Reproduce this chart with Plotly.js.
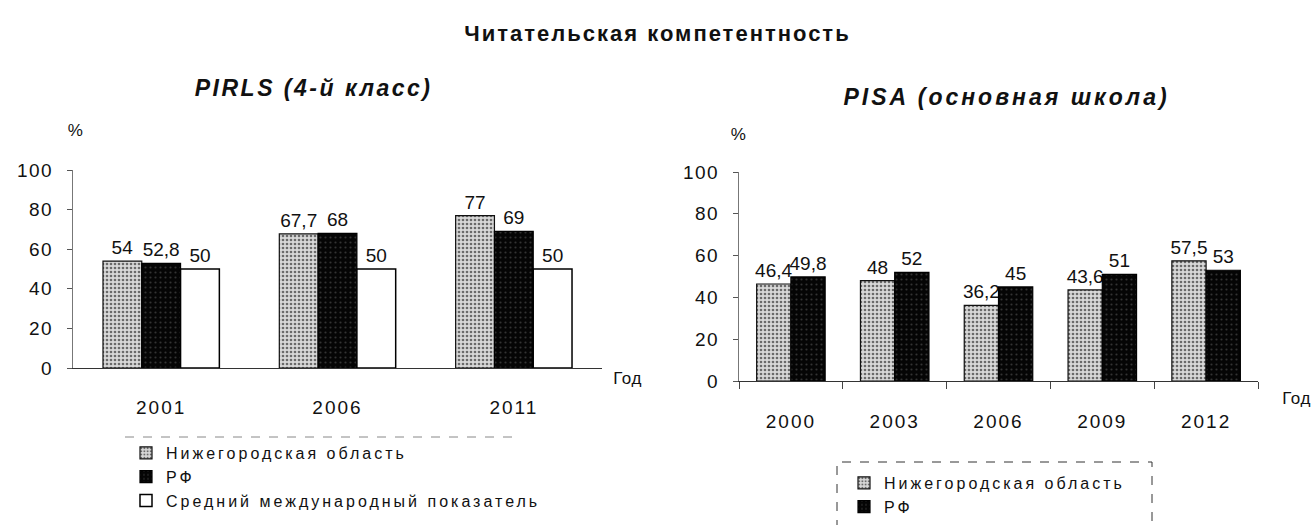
<!DOCTYPE html>
<html>
<head>
<meta charset="utf-8">
<script src="https://cdn.plot.ly/plotly-3.0.1.min.js"></script>
<style>
html,body{margin:0;padding:0;background:#fff;}
#chart{width:1315px;height:525px;}
text.legendtext, text.legend2text{letter-spacing:3px;}
</style>
</head>
<body>
<div id="chart"></div>
<script>
// ---- Data ----
const pirlsYears = ['2001', '2006', '2011'];
const pirlsNizhny = [54, 67.7, 77];
const pirlsRF = [52.8, 68, 69];
const pirlsIntl = [50, 50, 50];

const pisaYears = ['2000', '2003', '2006', '2009', '2012'];
const pisaNizhny = [46.4, 48, 36.2, 43.6, 57.5];
const pisaRF = [49.8, 52, 45, 51, 53];

const seriesNames = ['Нижегородская область', 'РФ', 'Средний международный показатель'];
const yTicks = [0, 20, 40, 60, 80, 100];

const fmt = v => String(v).replace('.', ',');
const FONT = 'Arial, "Liberation Sans", sans-serif';

const grayMarker = {color: '#d4d4d4', line: {color: '#111', width: 1.2},
  pattern: {shape: '.', fgcolor: '#6a6a6a', bgcolor: '#d8d8d8', size: 4, solidity: 0.35}};
const blackMarker = {color: '#000', line: {color: '#000', width: 1.2},
  pattern: {shape: '.', fgcolor: '#333', bgcolor: '#050505', size: 5, solidity: 0.15}};
const whiteMarker = {color: '#fff', line: {color: '#000', width: 1.5}};

const textFont = {family: FONT, size: 19, color: '#111'};

function bar(x, y, name, marker, xa, ya, lg) {
  return {type: 'bar', x: x, y: y, name: name, marker: marker,
    text: y.map(fmt), textposition: 'outside', textfont: textFont, cliponaxis: false,
    constraintext: 'none', xaxis: xa, yaxis: ya, legend: lg, hoverinfo: 'x+y'};
}

const data = [
  bar(pirlsYears, pirlsNizhny, seriesNames[0], grayMarker, 'x', 'y', 'legend'),
  bar(pirlsYears, pirlsRF, seriesNames[1], blackMarker, 'x', 'y', 'legend'),
  bar(pirlsYears, pirlsIntl, seriesNames[2], whiteMarker, 'x', 'y', 'legend'),
  bar(pisaYears, pisaNizhny, seriesNames[0], grayMarker, 'x2', 'y2', 'legend2'),
  bar(pisaYears, pisaRF, seriesNames[1], blackMarker, 'x2', 'y2', 'legend2')
];

const W = 1315, H = 525;
const px = v => v / W, py = v => 1 - v / H;

const tickFont = {family: FONT, size: 19, color: '#111'};
const yAxisBase = {range: [0, 100], tickvals: yTicks, ticks: 'outside', ticklen: 5, tickcolor: '#555',
  showline: true, linecolor: '#777', linewidth: 1, showgrid: false, zeroline: false,
  tickfont: tickFont, fixedrange: true, ticklabelstandoff: 10};
const xAxisBase = {type: 'category', showline: true, linecolor: '#333', linewidth: 1, showgrid: false,
  tickfont: tickFont, fixedrange: true};

const legendBase = {font: {family: FONT, size: 16, color: '#111'}, bgcolor: 'rgba(0,0,0,0)',
  xanchor: 'left', yanchor: 'top', tracegroupgap: 0, itemclick: false, itemdoubleclick: false};

function plainAnn(text, x, y) {
  return {text: text, xref: 'paper', yref: 'paper', x: px(x), y: py(y), showarrow: false,
    font: {family: FONT, size: 17, color: '#111'}, xanchor: 'center', yanchor: 'middle'};
}

const layout = {
  width: W, height: H,
  margin: {l: 0, r: 0, t: 0, b: 0},
  paper_bgcolor: '#fff', plot_bgcolor: '#fff',
  font: {family: FONT, color: '#111'},
  separators: ', ',
  barmode: 'group', bargroupgap: 0,
  title: {text: '<b>Читательская компетентность</b>', font: {family: FONT, size: 22, color: '#111'},
    x: 0.5, xanchor: 'center', y: py(33), yanchor: 'middle', yref: 'container'},
  xaxis: Object.assign({}, xAxisBase, {domain: [px(73), px(602)], anchor: 'y', ticks: '', ticklabelstandoff: 22}),
  yaxis: Object.assign({}, yAxisBase, {domain: [py(368), py(170)], anchor: 'x'}),
  xaxis2: Object.assign({}, xAxisBase, {domain: [px(739), px(1258)], anchor: 'y2', ticks: 'outside',
    tickson: 'boundaries', ticklen: 7, tickcolor: '#444', ticklabelstandoff: 23}),
  yaxis2: Object.assign({}, yAxisBase, {domain: [py(381), py(172)], anchor: 'x2'}),
  legend: Object.assign({}, legendBase, {x: px(126), y: py(436)}),
  legend2: Object.assign({}, legendBase, {x: px(844), y: py(466)}),
  bargap: 0.34,
  annotations: [
    {text: '<b><i>PIRLS (4-й класс)</i></b>', xref: 'paper', yref: 'paper', x: px(313), y: py(88),
      showarrow: false, font: {family: FONT, size: 23, color: '#111'}, xanchor: 'center', yanchor: 'middle'},
    {text: '<b><i>PISA (основная школа)</i></b>', xref: 'paper', yref: 'paper', x: px(1006), y: py(97),
      showarrow: false, font: {family: FONT, size: 23, color: '#111'}, xanchor: 'center', yanchor: 'middle'},
    plainAnn('%', 75, 131),
    plainAnn('%', 738, 134),
    plainAnn('Год', 627, 378),
    plainAnn('Год', 1296, 398)
  ],
  shapes: [
    {type: 'rect', xref: 'paper', yref: 'paper', x0: px(837), x1: px(1152), y0: py(530), y1: py(462),
      line: {color: '#333', width: 1, dash: 'dash'}, fillcolor: 'rgba(0,0,0,0)'},
    {type: 'line', xref: 'paper', yref: 'paper', x0: px(125), x1: px(520), y0: py(437), y1: py(437),
      line: {color: '#888', width: 1, dash: 'dash'}}
  ]
};

function spacing(gd) {
  const set = (sel, v) => gd.querySelectorAll(sel).forEach(t => { t.style.letterSpacing = v; });
  set('text.gtitle', '2px');
  const anns = gd.querySelectorAll('g.annotation text');
  anns.forEach((t, i) => { t.style.letterSpacing = i === 0 ? '2.5px' : (i === 1 ? '3px' : '0.5px'); });
  set('g.xtick text, g.x2tick text', '2px');
  set('g.ytick text, g.y2tick text', '1.5px');
}

Plotly.newPlot('chart', data, layout, {staticPlot: true, displayModeBar: false}).then(spacing);
</script>
</body>
</html>
